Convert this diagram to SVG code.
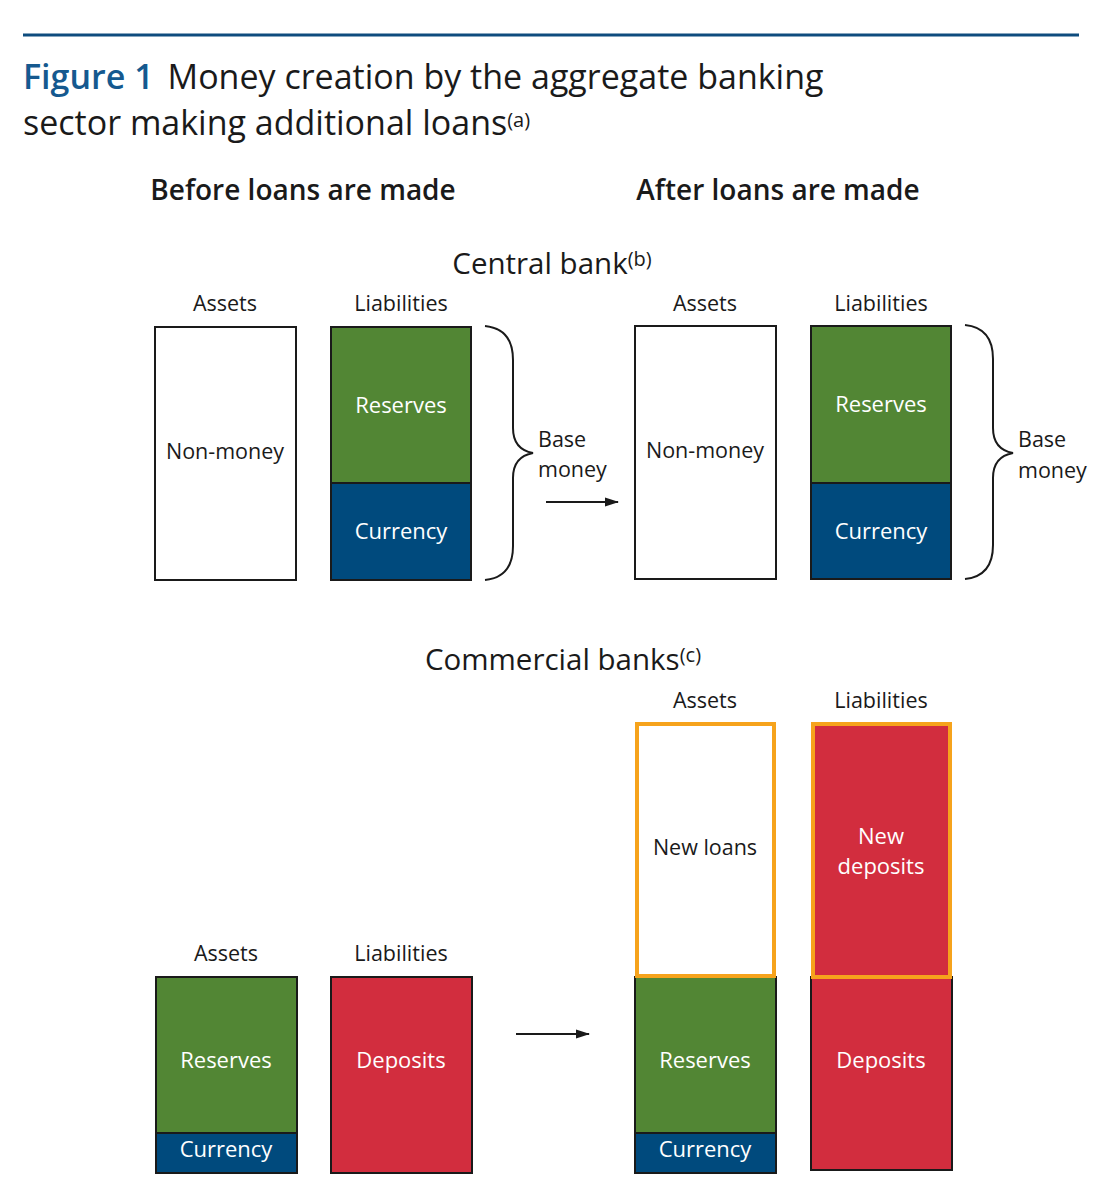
<svg xmlns="http://www.w3.org/2000/svg" width="1111" height="1200" viewBox="0 0 1111 1200">
<style>
text{font-family:"Open Sans","Noto Sans","Liberation Sans",sans-serif;fill:#1a1a1a}
.lbl{font-size:21.5px;text-anchor:middle}
.in{font-size:22px;text-anchor:middle;fill:#fff}
.box{stroke:#1a1a1a;stroke-width:2}
.new{stroke:#f6a31c;stroke-width:4}
.g{fill:#528634}.b{fill:#004a7d}.r{fill:#d22d3e}.w{fill:#fff}
.head{font-size:28px;font-weight:600;text-anchor:middle}
.sec{font-size:29.5px;text-anchor:middle}
.sup{font-size:20px}
.conn{stroke:#1a1a1a;stroke-width:2;fill:none}
</style>
<defs>
<marker id="ah" markerWidth="14" markerHeight="10" refX="13" refY="5" orient="auto" markerUnits="userSpaceOnUse">
<path d="M0,0.5 L14,5 L0,9.5 z" fill="#1a1a1a"/>
</marker>
</defs>
<rect width="1111" height="1200" fill="#fff"/>
<line x1="23" y1="35" x2="1079" y2="35" stroke="#0e4c7e" stroke-width="3"/>
<g id="title">
<text x="23" y="89" font-size="34"><tspan fill="#15598f" font-weight="600">Figure 1</tspan><tspan dx="14">Money creation by the aggregate banking</tspan></text>
<text x="23" y="135" font-size="34">sector making additional loans<tspan class="sup" dy="-8">(a)</tspan></text>
</g>
<text class="head" x="303" y="200">Before loans are made</text>
<text class="head" x="778" y="200">After loans are made</text>
<text class="sec" x="552" y="274">Central bank<tspan class="sup" dy="-8">(b)</tspan></text>
<text class="sec" x="563" y="670">Commercial banks<tspan class="sup" dy="-8">(c)</tspan></text>

<g id="cb-before-assets">
<text class="lbl" x="225" y="311">Assets</text>
<rect class="box w" x="155" y="327" width="141" height="253"/>
<text class="lbl" x="225" y="459">Non-money</text>
</g>
<g id="cb-before-liab">
<text class="lbl" x="401" y="311">Liabilities</text>
<rect class="box g" x="331" y="327" width="140" height="156"/>
<rect class="box b" x="331" y="483" width="140" height="97"/>
<text class="in" x="401" y="413">Reserves</text>
<text class="in" x="401" y="539">Currency</text>
</g>
<g id="cb-before-base">
<path class="conn" d="M485,326 C505,328 513,340 513,360 L513,428 C513,445 522,451 533,453 C522,455 513,461 513,478 L513,546 C513,566 505,578 485,580"/>
<text x="538" y="447" font-size="21.5">Base</text>
<text x="538" y="477" font-size="21.5">money</text>
</g>

<g id="cb-after-assets">
<text class="lbl" x="705" y="311">Assets</text>
<rect class="box w" x="635" y="326" width="141" height="253"/>
<text class="lbl" x="705" y="458">Non-money</text>
</g>
<g id="cb-after-liab">
<text class="lbl" x="881" y="311">Liabilities</text>
<rect class="box g" x="811" y="326" width="140" height="157"/>
<rect class="box b" x="811" y="483" width="140" height="96"/>
<text class="in" x="881" y="412">Reserves</text>
<text class="in" x="881" y="539">Currency</text>
</g>
<g id="cb-after-base">
<path class="conn" d="M965,325 C985,327 993,339 993,359 L993,428 C993,445 1002,451 1013,453 C1002,455 993,461 993,478 L993,545 C993,565 985,577 965,579"/>
<text x="1018" y="447" font-size="21.5">Base</text>
<text x="1018" y="478" font-size="21.5">money</text>
</g>

<g id="bk-before-assets">
<text class="lbl" x="226" y="961">Assets</text>
<rect class="box g" x="156" y="977" width="141" height="156"/>
<rect class="box b" x="156" y="1133" width="141" height="40"/>
<text class="in" x="226" y="1068">Reserves</text>
<text class="in" x="226" y="1157">Currency</text>
</g>
<g id="bk-before-liab">
<text class="lbl" x="401" y="961">Liabilities</text>
<rect class="box r" x="331" y="977" width="141" height="196"/>
<text class="in" x="401" y="1068">Deposits</text>
</g>

<g id="bk-after-assets">
<text class="lbl" x="705" y="708">Assets</text>
<rect class="box g" x="635" y="977" width="141" height="156"/>
<rect class="box b" x="635" y="1133" width="141" height="40"/>
<rect class="new w" x="637" y="724" width="137" height="252"/>
<text class="lbl" x="705" y="855">New loans</text>
<text class="in" x="705" y="1068">Reserves</text>
<text class="in" x="705" y="1157">Currency</text>
</g>
<g id="bk-after-liab">
<text class="lbl" x="881" y="708">Liabilities</text>
<rect class="box r" x="811" y="977" width="141" height="193"/>
<rect class="new r" x="813" y="724" width="137" height="253"/>
<text class="in" x="881" y="844">New</text>
<text class="in" x="881" y="874">deposits</text>
<text class="in" x="881" y="1068">Deposits</text>
</g>

<g id="connectors">
<line class="conn" x1="546" y1="502" x2="618" y2="502" marker-end="url(#ah)"/>
<line class="conn" x1="516" y1="1034" x2="589" y2="1034" marker-end="url(#ah)"/>
</g>
</svg>
